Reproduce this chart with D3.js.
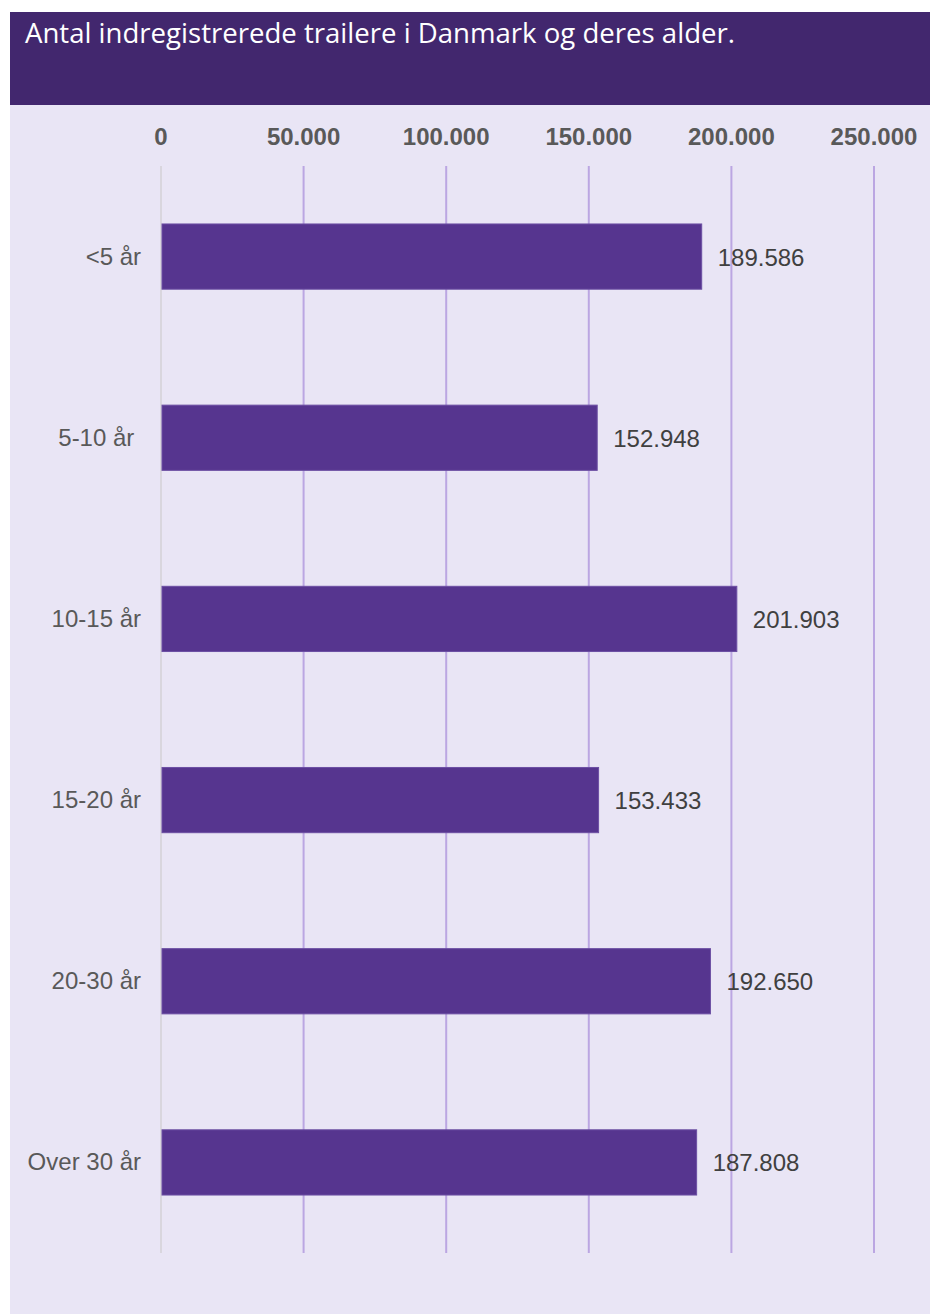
<!DOCTYPE html>
<html>
<head>
<meta charset="utf-8">
<script src="https://cdn.jsdelivr.net/npm/d3@7"></script>
<style>
  body { margin: 0; background: #ffffff; }
  svg { display: block; }
</style>
</head>
<body>
<div id="chart"></div>
<script>
// data
const categories = ["<5 år", "5-10 år ", "10-15 år", "15-20 år", "20-30 år", "Over 30 år"];
const values = [189586, 152948, 201903, 153433, 192650, 187808];
const tickValues = [0, 50000, 100000, 150000, 200000, 250000];
const title = "Antal indregistrerede trailere i Danmark og deres alder.";

const W = 930, H = 1315;
const fmt = d3.formatLocale({decimal: ",", thousands: ".", grouping: [3], currency: ["", " kr."]}).format(",d");

const svg = d3.select('#chart').append('svg')
  .attr('width', W)
  .attr('height', H);

// panel + title band
svg.append('rect')
  .attr('x', 10).attr('y', 12).attr('width', 920).attr('height', 1302)
  .attr('fill', '#e9e5f5');
svg.append('rect')
  .attr('x', 10).attr('y', 12).attr('width', 920).attr('height', 93)
  .attr('fill', '#42276e');
svg.append('text')
  .attr('x', 25).attr('y', 43)
  .attr('fill', '#ffffff')
  .style('font-family', '"Open Sans", sans-serif')
  .style('font-size', '28px')
  .attr('textLength', 710)
  .attr('lengthAdjust', 'spacingAndGlyphs')
  .text(title);

const plotTop = 166, plotBottom = 1253;
const x = d3.scaleLinear().domain([0, 250000]).range([161, 874]);
const y = d3.scaleBand().domain(categories).range([plotTop, plotBottom]).paddingInner(0.64).paddingOuter(0.32);

// gridlines
svg.append('g')
  .selectAll('line')
  .data(tickValues)
  .enter()
    .append('line')
    .attr('x1', d => x(d)).attr('x2', d => x(d))
    .attr('y1', plotTop).attr('y2', plotBottom)
    .style('stroke', d => d === 0 ? '#d9d6de' : '#bba6e2')
    .style('stroke-width', '2px');

// tick labels on top
svg.append('g')
  .selectAll('text')
  .data(tickValues)
  .enter()
    .append('text')
    .attr('x', d => x(d)).attr('y', 145)
    .attr('text-anchor', 'middle')
    .attr('fill', '#595959')
    .style('font-family', '"Liberation Sans", Arial, sans-serif')
    .style('font-size', '24px')
    .style('font-weight', 'bold')
    .text(d => fmt(d));

// bars
svg.append('g')
  .selectAll('rect')
  .data(values)
  .enter()
    .append('rect')
    .attr('x', x(0) + 1)
    .attr('y', (d, i) => y(categories[i]))
    .attr('width', d => x(d) - x(0) - 1)
    .attr('height', y.bandwidth())
    .attr('fill', '#56358f')
    .attr('stroke', '#6c4fa3')
    .attr('stroke-width', 1);

// value labels
svg.append('g')
  .selectAll('text')
  .data(values)
  .enter()
    .append('text')
    .attr('x', d => x(d) + 16)
    .attr('y', (d, i) => y(categories[i]) + y.bandwidth() / 2 + 9)
    .attr('fill', '#404040')
    .style('font-family', '"Liberation Sans", Arial, sans-serif')
    .style('font-size', '24px')
    .text(d => fmt(d));

// category labels
svg.append('g')
  .selectAll('text')
  .data(categories)
  .enter()
    .append('text')
    .attr('x', 141)
    .attr('y', d => y(d) + y.bandwidth() / 2 + 8)
    .attr('text-anchor', 'end')
    .attr('fill', '#595959')
    .style('font-family', '"Liberation Sans", Arial, sans-serif')
    .style('font-size', '24px')
    .style('white-space', 'pre')
    .text(d => d);
</script>
</body>
</html>
